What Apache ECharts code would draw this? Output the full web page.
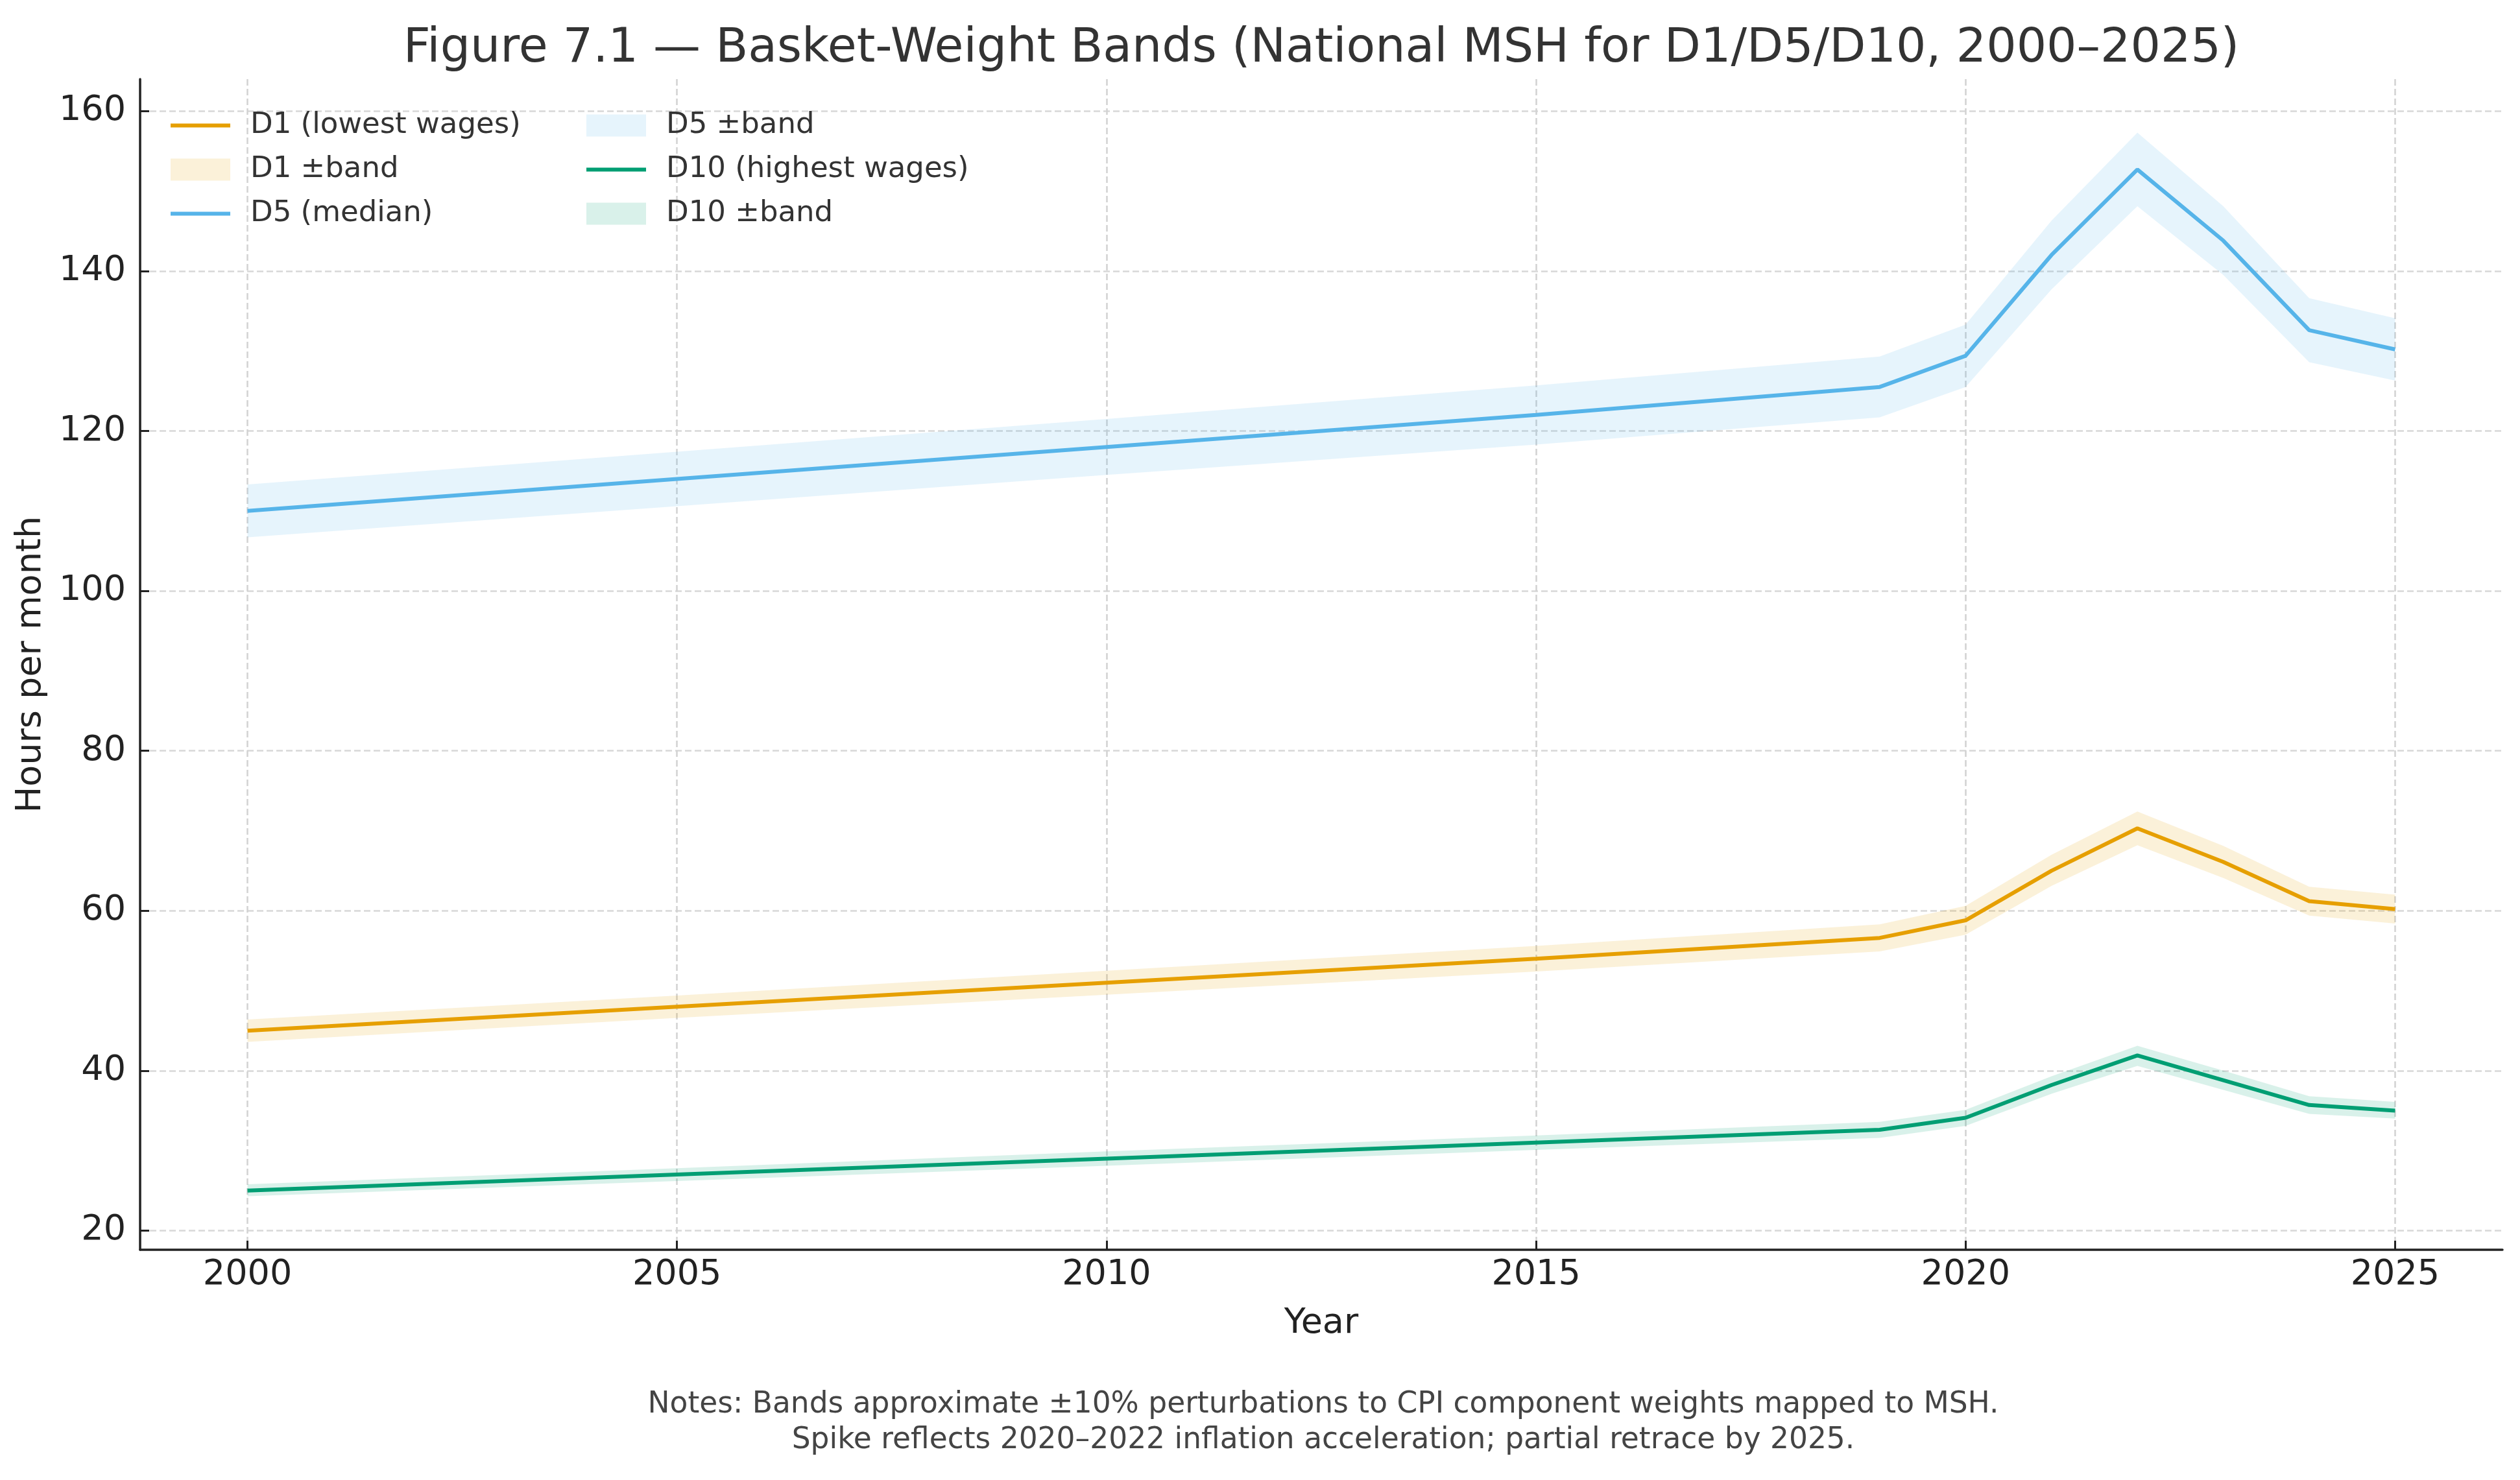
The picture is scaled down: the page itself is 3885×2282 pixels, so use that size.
<!DOCTYPE html>
<html>
<head>
<meta charset="utf-8">
<script src="https://cdn.jsdelivr.net/npm/echarts@6/dist/echarts.min.js"></script>
<style>
html,body{margin:0;padding:0;background:#fff;}
#chart{width:3885px;height:2282px;}
</style>
</head>
<body>
<div id="chart"></div>
<script>
// ---- data ----
const years = [2000, 2005, 2010, 2015, 2019, 2020, 2021, 2022, 2023, 2024, 2025];
const d1  = [45.0, 48.0, 51.0, 54.0, 56.6, 58.8, 65.0, 70.3, 66.1, 61.2, 60.2];
const d5  = [110.0, 114.0, 118.0, 122.0, 125.5, 129.4, 142.0, 152.7, 143.8, 132.6, 130.2];
const d10 = [25.0, 27.0, 29.0, 31.0, 32.6, 34.1, 38.2, 41.9, 38.8, 35.7, 35.0];

const d1Upper  = [46.4, 49.4, 52.5, 55.6, 58.3, 60.6, 67.0, 72.4, 68.1, 63.0, 62.0];
const d1Lower  = [43.6, 46.6, 49.5, 52.4, 54.9, 57.0, 63.1, 68.2, 64.1, 59.4, 58.4];
const d5Upper  = [113.3, 117.4, 121.5, 125.7, 129.3, 133.3, 146.3, 157.3, 148.1, 136.6, 134.1];
const d5Lower  = [106.7, 110.6, 114.5, 118.3, 121.7, 125.5, 137.7, 148.1, 139.5, 128.6, 126.3];
const d10Upper = [25.8, 27.8, 29.9, 31.9, 33.6, 35.1, 39.3, 43.1, 40.0, 36.8, 36.1];
const d10Lower = [24.3, 26.2, 28.1, 30.1, 31.6, 33.1, 37.1, 40.6, 37.6, 34.6, 34.0];

const xTicks = [2000, 2005, 2010, 2015, 2020, 2025];
const yTicks = [20, 40, 60, 80, 100, 120, 140, 160];

const titleText = 'Figure 7.1 \u2014 Basket-Weight Bands (National MSH for D1/D5/D10, 2000\u20132025)';
const notesText = 'Notes: Bands approximate \u00b110% perturbations to CPI component weights mapped to MSH.\nSpike reflects 2020\u20132022 inflation acceleration; partial retrace by 2025.';

const C1 = '#E69F00', C5 = '#56B4E9', C10 = '#009E73';
const B1 = 'rgba(230,159,0,0.15)', B5 = 'rgba(86,180,233,0.15)', B10 = 'rgba(0,158,115,0.15)';
const FONT = 'DejaVu Sans';

function pairs(vals){ return years.map((y,i)=>[y, vals[i]]); }

function bandSeries(name, lower, upper, color){
  return {
    type: 'custom', name: name, coordinateSystem: 'cartesian2d',
    data: [[years[0], lower[0]]], z: 1, silent: true,
    itemStyle: {color: color},
    renderItem: function(params, api){
      const pts = [];
      for (let i = 0; i < years.length; i++) pts.push(api.coord([years[i], upper[i]]));
      for (let i = years.length - 1; i >= 0; i--) pts.push(api.coord([years[i], lower[i]]));
      return {type: 'polygon', shape: {points: pts}, style: {fill: color}};
    }
  };
}
function lineSeries(name, vals, color){
  return {
    type: 'line', name: name, data: pairs(vals), symbol: 'none', z: 3,
    lineStyle: {width: 6, color: color}, itemStyle: {color: color},
    emphasis: {disabled: true}, animation: false
  };
}

const chart = echarts.init(document.getElementById('chart'));
const transparentItem = {color: 'rgba(0,0,0,0)', borderColor: 'rgba(0,0,0,0)', borderWidth: 0};
const legendCommon = {
  orient: 'vertical', top: 166, itemWidth: 92, itemHeight: 34, itemGap: 23,
  selectedMode: false,
  lineStyle: {width: 6},
  textStyle: {fontFamily: FONT, fontSize: 45, color: '#333', lineHeight: 34, padding: [0,0,0,26]}
};
chart.setOption({
  animation: false,
  backgroundColor: '#fff',
  grid: {left: 216, right: 27, top: 122, bottom: 355, containLabel: false},
  xAxis: {
    type: 'value', min: 1998.75, max: 2026.25,
    name: 'Year', nameLocation: 'middle', nameGap: 87,
    nameTextStyle: {fontFamily: FONT, fontSize: 54, color: '#222'},
    axisLine: {show: true, lineStyle: {color: '#222', width: 3.5}},
    axisTick: {show: true, inside: true, length: 14, lineStyle: {color: '#222', width: 3}, customValues: xTicks},
    axisLabel: {fontFamily: FONT, fontSize: 54, color: '#222', margin: 12, customValues: xTicks,
      formatter: v => String(v)},
    splitLine: {show: true, lineStyle: {color: '#d2d2d2', width: 2.5, type: [10, 5]}}
  },
  yAxis: {
    type: 'value', min: 17.6, max: 164.0,
    name: 'Hours per month', nameLocation: 'middle', nameGap: 141, nameRotate: 90,
    nameTextStyle: {fontFamily: FONT, fontSize: 54, color: '#222'},
    axisLine: {show: true, lineStyle: {color: '#222', width: 3.5}},
    axisTick: {show: true, inside: true, length: 14, lineStyle: {color: '#222', width: 3}, customValues: yTicks},
    axisLabel: {fontFamily: FONT, fontSize: 54, color: '#222', margin: 22, customValues: yTicks},
    splitLine: {show: true, lineStyle: {color: '#d8d8d8', width: 2.5, type: [10, 5]}}
  },
  legend: [
    Object.assign({}, legendCommon, {left: 255, data: [
      {name: 'D1 (lowest wages)', itemStyle: transparentItem},
      {name: 'D1 \u00b1band', icon: 'rect', itemStyle: {color: B1}},
      {name: 'D5 (median)', itemStyle: transparentItem}
    ]}),
    Object.assign({}, legendCommon, {left: 896, data: [
      {name: 'D5 \u00b1band', icon: 'rect', itemStyle: {color: B5}},
      {name: 'D10 (highest wages)', itemStyle: transparentItem},
      {name: 'D10 \u00b1band', icon: 'rect', itemStyle: {color: B10}}
    ]})
  ],
  series: [
    bandSeries('D1 \u00b1band', d1Lower, d1Upper, B1),
    bandSeries('D5 \u00b1band', d5Lower, d5Upper, B5),
    bandSeries('D10 \u00b1band', d10Lower, d10Upper, B10),
    lineSeries('D1 (lowest wages)', d1, C1),
    lineSeries('D5 (median)', d5, C5),
    lineSeries('D10 (highest wages)', d10, C10)
  ],
  graphic: [
    {type: 'text', x: 2037, y: 76, silent: true,
      style: {text: titleText, fontFamily: FONT, fontSize: 73, fill: '#333', align: 'center', verticalAlign: 'middle'}},
    {type: 'text', x: 2040, y: 2194, silent: true,
      style: {text: notesText, fontFamily: FONT, fontSize: 45.5, lineHeight: 55, fill: '#444', align: 'center', verticalAlign: 'middle'}}
  ]
});
</script>
</body>
</html>
